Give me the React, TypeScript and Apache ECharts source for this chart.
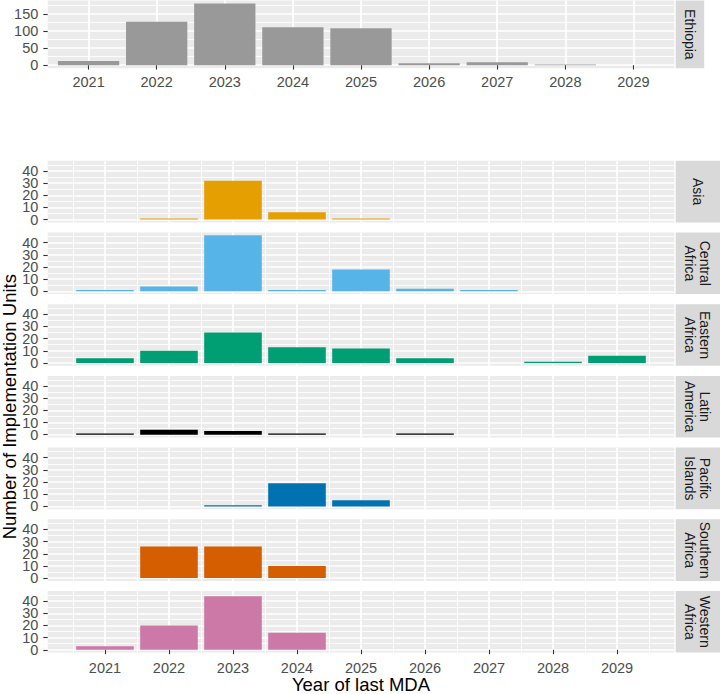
import React, { useEffect, useRef } from 'react';
import * as echarts from 'echarts';

// ---------------- data ----------------
const years = [2021, 2022, 2023, 2024, 2025, 2026, 2027, 2028, 2029];

const ethiopiaLabel = 'Ethiopia';
const ethiopiaCounts = [12, 127, 180, 111, 108, 6, 9, 2, 0];
const ethiopiaTicks = [0, 50, 100, 150];

const regionLabels = [
  'Asia',
  'Central\nAfrica',
  'Eastern\nAfrica',
  'Latin\nAmerica',
  'Pacific\nIslands',
  'Southern\nAfrica',
  'Western\nAfrica',
];
const asia = [null, 1, 32, 6, 1, null, null, null, null];
const centralAfrica = [1, 4, 46, 1, 18, 2, 1, null, null];
const easternAfrica = [4, 10, 25, 13, 12, 4, null, 1, 6];
const latinAmerica = [1, 4, 3, 1, null, 1, null, null, null];
const pacificIslands = [null, null, 1, 19, 5, null, null, null, null];
const southernAfrica = [null, 26, 26, 10, null, null, null, null, null];
const westernAfrica = [3, 20, 44, 14, null, null, null, null, null];
const regionCounts = [asia, centralAfrica, easternAfrica, latinAmerica, pacificIslands, southernAfrica, westernAfrica];
const regionColors = ['#E69F00', '#56B4E9', '#009E73', '#000000', '#0072B2', '#D55E00', '#CC79A7'];
const regionTicks = [0, 10, 20, 30, 40];

const yTitle = 'Number of Implementation Units';
const xTitle = 'Year of last MDA';

// ---------------- layout / style ----------------
const FONT = "'Liberation Sans', Arial, Helvetica, sans-serif";
const PANEL_L = 47.7;
const PANEL_R = 674.3;
const ETH_TOP = 0.4;
const ETH_BOTTOM = 68.3;
const REG_TOP = 160.8;
const REG_PITCH = 71.7;
const REG_H = 61.6;
const STRIP_X = 675.7;
const ETH_STRIP_W = 28.5;
const REG_STRIP_W = 44.3;
const PANEL_BG = '#EBEBEB';
const STRIP_BG = '#D9D9D9';
const TICK_COLOR = '#4D4D4D';
const MAJOR_W = 1.7;
const MINOR_W = 0.85;
const TICK_FONT = 14.5;
const TITLE_FONT = 18.5;

function buildOption() {
  const panelW = PANEL_R - PANEL_L;

  // Ethiopia: discrete x scale (expansion 0.6 units each side)
  const ethXMin = years[0] - 0.6;
  const ethXMax = years[years.length - 1] + 0.6;
  const ethBarW = (0.9 * panelW) / (ethXMax - ethXMin);
  const ethMax = Math.max(...ethiopiaCounts);
  const ethYMin = -0.05 * ethMax;
  const ethYMax = ethMax * 1.05;

  // regions: continuous x scale, bars width 0.9, 5% expansion
  const lo = years[0] - 0.45;
  const hi = years[years.length - 1] + 0.45;
  const xPad = (hi - lo) * 0.05;
  const regXMin = lo - xPad;
  const regXMax = hi + xPad;
  const regBarW = (0.9 * panelW) / (regXMax - regXMin);
  let regMax = 0;
  regionCounts.forEach((arr) => arr.forEach((v) => { if (v != null && v > regMax) regMax = v; }));
  const regYMin = -0.05 * regMax;
  const regYMax = regMax * 1.05;

  const tickStyle = { color: '#333333', width: 1.1 };
  const labelStyle = { color: TICK_COLOR, fontSize: TICK_FONT, fontFamily: FONT };
  const yLabelExtra = { showMinLabel: true, showMaxLabel: true, hideOverlap: false, lineHeight: 10, margin: 9.4 };
  // region y labels are split over two overlaid axes so that none is auto-hidden
  const evenTicks = regionTicks.filter((_, i) => i % 2 === 0);
  const oddTicks = regionTicks.filter((_, i) => i % 2 === 1);

  const grids: any[] = [
    {
      left: PANEL_L, top: ETH_TOP, width: panelW, height: ETH_BOTTOM - ETH_TOP,
      show: true, backgroundColor: PANEL_BG, borderWidth: 0, containLabel: false,
    },
  ];
  const xAxes: any[] = [
    {
      type: 'value', gridIndex: 0, min: ethXMin, max: ethXMax, splitNumber: 9,
      axisLine: { show: false },
      axisTick: { show: true, customValues: years, length: 4.4, lineStyle: tickStyle },
      axisLabel: {
        show: true, customValues: years, formatter: (v: number) => String(v), margin: 6.5,
        showMinLabel: true, showMaxLabel: true, ...labelStyle,
      },
      splitLine: { show: true, lineStyle: { color: '#FFFFFF', width: MAJOR_W } },
      minorTick: { show: false },
      minorSplitLine: { show: false },
    },
  ];
  const yAxes: any[] = [
    {
      type: 'value', gridIndex: 0, position: 'left', min: ethYMin, max: ethYMax, splitNumber: 4,
      axisLine: { show: false },
      axisTick: { show: true, customValues: ethiopiaTicks, length: 4.4, lineStyle: tickStyle },
      axisLabel: {
        show: true, customValues: ethiopiaTicks, formatter: (v: number) => String(v),
        ...yLabelExtra, ...labelStyle,
      },
      splitLine: { show: true, lineStyle: { color: '#FFFFFF', width: MAJOR_W } },
      minorTick: { show: false, splitNumber: 2 },
      minorSplitLine: { show: true, lineStyle: { color: '#FFFFFF', width: MINOR_W } },
    },
  ];
  const series: any[] = [
    {
      type: 'bar', xAxisIndex: 0, yAxisIndex: 0, silent: true,
      barWidth: ethBarW,
      itemStyle: { color: '#999999' },
      data: years.map((y, i) => [y, ethiopiaCounts[i]]),
    },
  ];

  const graphics: any[] = [];
  // Ethiopia strip
  graphics.push({
    type: 'rect', silent: true,
    shape: { x: STRIP_X, y: ETH_TOP, width: ETH_STRIP_W, height: ETH_BOTTOM - ETH_TOP },
    style: { fill: STRIP_BG },
  });
  graphics.push({
    type: 'text', silent: true,
    x: STRIP_X + ETH_STRIP_W / 2, y: (ETH_TOP + ETH_BOTTOM) / 2, rotation: -Math.PI / 2,
    style: {
      text: ethiopiaLabel, fill: '#1A1A1A', font: `14px ${FONT}`,
      align: 'center', verticalAlign: 'middle', textAlign: 'center', textVerticalAlign: 'middle',
    },
  });

  regionLabels.forEach((name, r) => {
    const gi = r + 1;
    const top = REG_TOP + r * REG_PITCH;
    const isLast = r === regionLabels.length - 1;
    grids.push({
      left: PANEL_L, top, width: panelW, height: REG_H,
      show: true, backgroundColor: PANEL_BG, borderWidth: 0, containLabel: false,
    });
    xAxes.push({
      type: 'value', gridIndex: gi, min: regXMin, max: regXMax, splitNumber: 9,
      axisLine: { show: false },
      axisTick: { show: isLast, customValues: years, length: 4.4, lineStyle: tickStyle },
      axisLabel: {
        show: isLast, customValues: years, formatter: (v: number) => String(v), margin: 8,
        showMinLabel: true, showMaxLabel: true, ...labelStyle,
      },
      splitLine: { show: true, lineStyle: { color: '#FFFFFF', width: MAJOR_W } },
      minorTick: { show: false, splitNumber: 2 },
      minorSplitLine: { show: true, lineStyle: { color: '#FFFFFF', width: MINOR_W } },
    });
    const mainY = yAxes.length;
    yAxes.push({
      type: 'value', gridIndex: gi, position: 'left', offset: 0, min: regYMin, max: regYMax, splitNumber: 5,
      axisLine: { show: false },
      axisTick: { show: true, customValues: regionTicks, length: 4.4, lineStyle: tickStyle },
      axisLabel: {
        show: true, customValues: evenTicks, formatter: (v: number) => String(v),
        ...yLabelExtra, ...labelStyle,
      },
      splitLine: { show: true, lineStyle: { color: '#FFFFFF', width: MAJOR_W } },
      minorTick: { show: false, splitNumber: 2 },
      minorSplitLine: { show: true, lineStyle: { color: '#FFFFFF', width: MINOR_W } },
    });
    yAxes.push({
      type: 'value', gridIndex: gi, position: 'left', offset: 0, min: regYMin, max: regYMax, splitNumber: 5,
      axisLine: { show: false },
      axisTick: { show: false, customValues: oddTicks },
      axisLabel: {
        show: true, customValues: oddTicks, formatter: (v: number) => String(v),
        ...yLabelExtra, ...labelStyle,
      },
      splitLine: { show: false },
      minorTick: { show: false },
      minorSplitLine: { show: false },
    });
    const counts = regionCounts[r];
    series.push({
      type: 'bar', xAxisIndex: gi, yAxisIndex: mainY, silent: true,
      barWidth: regBarW,
      itemStyle: { color: regionColors[r] },
      data: years.map((y, i) => [y, counts[i]]).filter((d) => d[1] != null),
    });
    graphics.push({
      type: 'rect', silent: true,
      shape: { x: STRIP_X, y: top, width: REG_STRIP_W, height: REG_H },
      style: { fill: STRIP_BG },
    });
    graphics.push({
      type: 'text', silent: true,
      x: STRIP_X + REG_STRIP_W / 2, y: top + REG_H / 2, rotation: -Math.PI / 2,
      style: {
        text: name, fill: '#1A1A1A', font: `14px ${FONT}`, lineHeight: 15,
        align: 'center', verticalAlign: 'middle', textAlign: 'center', textVerticalAlign: 'middle',
      },
    });
  });

  // axis titles
  const lastBottom = REG_TOP + (regionLabels.length - 1) * REG_PITCH + REG_H;
  graphics.push({
    type: 'text', silent: true,
    x: 9.5, y: (REG_TOP + lastBottom) / 2, rotation: Math.PI / 2,
    style: {
      text: yTitle, fill: '#000000', font: `${TITLE_FONT}px ${FONT}`,
      align: 'center', verticalAlign: 'middle', textAlign: 'center', textVerticalAlign: 'middle',
    },
  });
  graphics.push({
    type: 'text', silent: true,
    x: (PANEL_L + PANEL_R) / 2, y: 684.5,
    style: {
      text: xTitle, fill: '#000000', font: `${TITLE_FONT}px ${FONT}`,
      align: 'center', verticalAlign: 'middle', textAlign: 'center', textVerticalAlign: 'middle',
    },
  });

  return {
    animation: false,
    backgroundColor: '#FFFFFF',
    textStyle: { fontFamily: FONT },
    grid: grids,
    xAxis: xAxes,
    yAxis: yAxes,
    series,
    graphic: { elements: graphics },
  };
}

export default function App() {
  const ref = useRef<HTMLDivElement>(null);
  useEffect(() => {
    document.body.style.margin = '0';
    const chart = echarts.init(ref.current as HTMLDivElement, null, { renderer: 'svg', width: 720, height: 694 });
    chart.setOption(buildOption() as any);
    return () => {
      chart.dispose();
    };
  }, []);
  return <div ref={ref} style={{ width: 720, height: 694 }} />;
}
